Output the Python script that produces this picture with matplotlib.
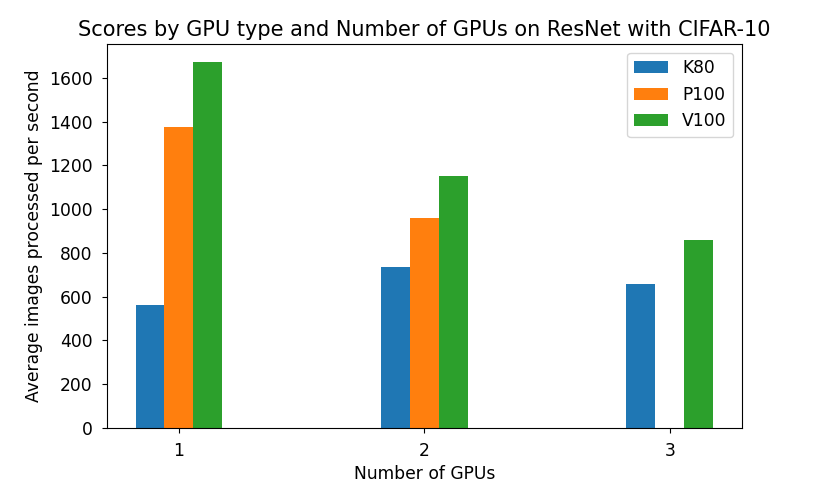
import matplotlib
matplotlib.use("Agg")
import matplotlib.pyplot as plt
import numpy as np

num_gpus = [1, 2, 3]
k80 = [561, 736, 657]
p100 = [1375, 960, 0]
v100 = [1672, 1152, 857]

plt.rcParams["font.size"] = 12.3

fig = plt.figure(figsize=(8.13, 4.97), dpi=100)
ax = fig.add_subplot(111)
fig.subplots_adjust(left=0.1312, right=0.9127, top=0.9115, bottom=0.1394)

index = np.array(num_gpus)
bar_width = 0.118

ax.bar(index - bar_width, k80, bar_width, label="K80")
ax.bar(index, p100, bar_width, label="P100")
ax.bar(index + bar_width, v100, bar_width, label="V100")

ax.set_xticks(index)
ax.set_xticklabels([str(n) for n in num_gpus])
ax.tick_params(axis="both", pad=6.5)
ax.set_xlabel("Number of GPUs")
ax.set_ylabel("Average images processed per second")
ax.set_title("Scores by GPU type and Number of GPUs on ResNet with CIFAR-10", fontsize=15)
ax.legend(loc="upper right")

fig.savefig("out.png", dpi=100)
